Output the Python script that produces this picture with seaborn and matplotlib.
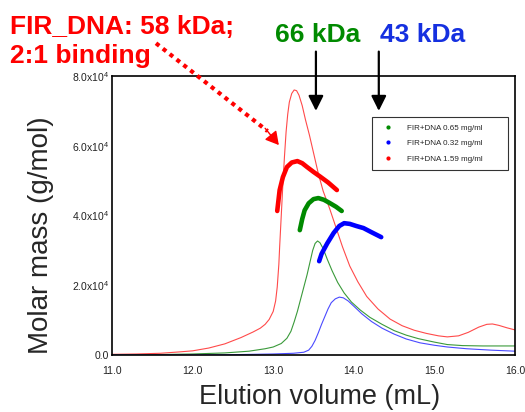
import matplotlib
matplotlib.use("Agg")
import matplotlib.pyplot as plt
import seaborn as sns
from matplotlib.ticker import FixedLocator, MultipleLocator

# ---- data (molar mass in units of 1e4 g/mol) ----
red_x = [11.0, 11.3, 11.6, 11.84, 12.0, 12.2, 12.4, 12.6, 12.75, 12.84, 12.9, 12.95, 13.0, 13.03,
         13.05, 13.07, 13.08, 13.1, 13.12, 13.14, 13.16, 13.18, 13.2, 13.23, 13.26, 13.29, 13.32,
         13.36, 13.4, 13.45, 13.5, 13.56, 13.62, 13.7, 13.78, 13.86, 13.95, 14.05, 14.16, 14.3,
         14.45, 14.6, 14.75, 14.9, 15.05, 15.16, 15.3, 15.42, 15.55, 15.65, 15.72, 15.8, 15.9, 16.0]
red_y = [0.02, 0.03, 0.05, 0.09, 0.12, 0.2, 0.32, 0.5, 0.66, 0.77, 0.88, 1.02, 1.25, 1.55,
         1.95, 2.6, 3.1, 4.0, 4.9, 5.7, 6.4, 6.9, 7.25, 7.5, 7.6, 7.58, 7.45,
         7.15, 6.75, 6.3, 5.8, 5.2, 4.7, 4.2, 3.65, 3.1, 2.55, 2.1, 1.68, 1.32,
         1.03, 0.84, 0.71, 0.62, 0.55, 0.52, 0.55, 0.65, 0.8, 0.88, 0.89, 0.85, 0.78, 0.72]

green_x = [11.0, 11.5, 12.0, 12.4, 12.7, 12.9, 13.0, 13.1, 13.17, 13.22, 13.26, 13.3, 13.34, 13.38,
           13.42, 13.46, 13.49, 13.52, 13.55, 13.58, 13.62, 13.67, 13.73, 13.8, 13.88, 13.97,
           14.08, 14.2, 14.35, 14.5, 14.65, 14.8, 15.0, 15.16, 15.35, 15.6, 16.0]
green_y = [0.0, 0.01, 0.03, 0.06, 0.11, 0.18, 0.23, 0.33, 0.48, 0.68, 0.95, 1.25, 1.6, 1.95,
           2.3, 2.7, 3.0, 3.2, 3.27, 3.22, 3.05, 2.75, 2.42, 2.08, 1.78, 1.52,
           1.29, 1.08, 0.88, 0.7, 0.57, 0.47, 0.37, 0.3, 0.27, 0.26, 0.26]

blue_x = [11.0, 12.0, 12.5, 13.0, 13.25, 13.38, 13.44, 13.48, 13.52, 13.56, 13.6, 13.64, 13.68,
          13.72, 13.77, 13.82, 13.87, 13.93, 14.0, 14.1, 14.22, 14.35, 14.5, 14.65, 14.82, 15.0,
          15.16, 15.4, 15.7, 16.0]
blue_y = [0.0, 0.0, 0.01, 0.03, 0.05, 0.08, 0.14, 0.25, 0.42, 0.64, 0.88, 1.1, 1.32,
          1.5, 1.61, 1.66, 1.64, 1.55, 1.4, 1.18, 0.96, 0.77, 0.6, 0.46, 0.35, 0.28,
          0.23, 0.18, 0.14, 0.11]

# molar mass traces
red_mm_x = [13.05, 13.08, 13.12, 13.17, 13.23, 13.3, 13.36, 13.42, 13.5, 13.58, 13.68, 13.79]
red_mm_y = [4.13, 4.73, 5.1, 5.39, 5.52, 5.56, 5.5, 5.39, 5.25, 5.12, 4.95, 4.73]
green_mm_x = [13.33, 13.36, 13.39, 13.44, 13.5, 13.56, 13.63, 13.7, 13.78, 13.85]
green_mm_y = [3.58, 3.9, 4.15, 4.35, 4.47, 4.5, 4.45, 4.36, 4.25, 4.13]
blue_mm_x = [13.57, 13.6, 13.67, 13.75, 13.82, 13.88, 13.95, 14.03, 14.12, 14.22, 14.34]
blue_mm_y = [2.69, 2.9, 3.2, 3.5, 3.7, 3.78, 3.76, 3.7, 3.64, 3.52, 3.38]

legend_labels = ["FIR+DNA 0.65 mg/ml", "FIR+DNA 0.32 mg/ml", "FIR+DNA 1.59 mg/ml"]
x_ticks = [11.0, 12.0, 13.0, 14.0, 15.0, 16.0]
x_ticklabels = ["11.0", "12.0", "13.0", "14.0", "15.0", "16.0"]
y_ticks = [0, 2, 4, 6, 8]
y_ticklabels = ["0.0", "2.0x10$^4$", "4.0x10$^4$", "6.0x10$^4$", "8.0x10$^4$"]
arrow_x = [13.53, 14.31]

RED = "#ff0000"
GREEN = "#008a00"
BLUE = "#0000ff"

sns.set_style("white")
plt.rcParams["font.family"] = ["Liberation Sans", "DejaVu Sans"]
plt.rcParams["mathtext.fontset"] = "custom"
plt.rcParams["mathtext.rm"] = "Liberation Sans"

fig = plt.figure(figsize=(5.25, 4.12), dpi=100)
ax = fig.add_axes([0.2133, 0.1383, 0.7677, 0.6772])

def thin(x, y, c):
    sns.lineplot(x=x, y=y, ax=ax, color=c, lw=0.8, sort=False, estimator=None)

def thick(x, y, c):
    sns.lineplot(x=x, y=y, ax=ax, color=c, lw=3.3, sort=False, estimator=None,
                 solid_capstyle="round", solid_joinstyle="round")

thin(red_x, red_y, "#ff4a4a")
thin(green_x, green_y, "#3a9a3a")
thin(blue_x, blue_y, "#4a4aff")
thick(red_mm_x, red_mm_y, RED)
thick(green_mm_x, green_mm_y, GREEN)
thick(blue_mm_x, blue_mm_y, BLUE)

# legend proxies
for c, lab in zip([GREEN, BLUE, RED], legend_labels):
    ax.plot([], [], ls="none", marker="o", ms=2, color=c, label=lab)
leg = ax.legend(loc="upper left", bbox_to_anchor=(0.645, 0.853, 0.337, 0.0), mode="expand",
                fontsize=5.8, frameon=True, fancybox=False, edgecolor="black",
                handlelength=2.2, handletextpad=1.2, borderpad=0.9, labelspacing=0.95,
                borderaxespad=0)
leg.get_frame().set_linewidth(0.8)

ax.set_xlim(11.0, 16.0)
ax.set_ylim(0, 8)
ax.xaxis.set_major_locator(FixedLocator(x_ticks))
ax.set_xticklabels(x_ticklabels)
ax.xaxis.set_minor_locator(MultipleLocator(0.2))
ax.yaxis.set_major_locator(FixedLocator(y_ticks))
ax.set_yticklabels(y_ticklabels)
ax.yaxis.set_minor_locator(MultipleLocator(0.5))
ax.tick_params(which="major", direction="in", length=6, width=1.2, labelsize=7.5, colors="black",
               labelcolor="#222222")
ax.tick_params(which="minor", direction="in", length=3, width=1.0)
ax.tick_params(axis="x", which="major", pad=8)
ax.tick_params(axis="y", which="major", pad=2)
for s in ax.spines.values():
    s.set_visible(True)
    s.set_linewidth(1.2)
    s.set_color("black")

ax.set_xlabel("Elution volume (mL)", fontsize=19.5)
ax.set_ylabel("Molar mass (g/mol)", fontsize=20)
ax.xaxis.set_label_coords(0.516, -0.105)
ax.yaxis.set_label_coords(-0.145, 0.43)

# black arrows
for xa in arrow_x:
    ax.annotate("", xy=(xa, 7.0), xytext=(xa, 8.7), annotation_clip=False,
                arrowprops=dict(arrowstyle="-|>,head_length=0.9,head_width=0.45", color="black",
                                lw=1.6, shrinkA=0, shrinkB=0))

# red dotted arrow
ax.annotate("", xy=(12.93, 6.42), xytext=(11.546, 8.94), annotation_clip=False,
            arrowprops=dict(arrowstyle="-", color=RED, lw=3.0, ls=(0, (1, 1.1)),
                            capstyle="butt", shrinkA=0, shrinkB=0))
ax.annotate("", xy=(13.07, 6.02), xytext=(12.9, 6.5), annotation_clip=False,
            arrowprops=dict(arrowstyle="-|>,head_length=0.8,head_width=0.45", color=RED, lw=1,
                            shrinkA=0, shrinkB=0))

fig.text(10 / 525, 1 - 34 / 412, "FIR_DNA: 58 kDa;", color=RED, fontsize=19, fontweight="bold",
         ha="left", va="baseline")
fig.text(10 / 525, 1 - 63 / 412, "2:1 binding", color=RED, fontsize=19, fontweight="bold",
         ha="left", va="baseline")
fig.text(275 / 525, 1 - 42 / 412, "66 kDa", color=GREEN, fontsize=19, fontweight="bold",
         ha="left", va="baseline")
fig.text(380 / 525, 1 - 42 / 412, "43 kDa", color="#1530e0", fontsize=19, fontweight="bold",
         ha="left", va="baseline")

fig.savefig("out.png", dpi=100)
